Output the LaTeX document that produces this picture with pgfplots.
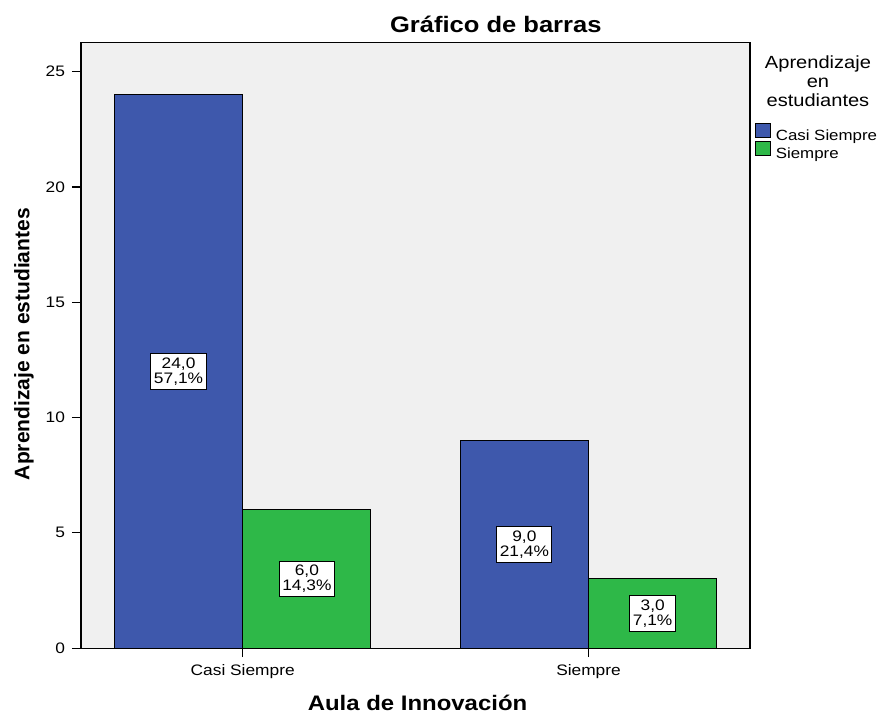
\documentclass[border=0pt]{standalone}
\usepackage{fontspec}
\setmainfont{Liberation Sans}[FakeStretch=1.14]
\newfontfamily\ylabfont{Liberation Sans}
\usepackage{pgfplots}
\usepackage{pgfplotstable}
\pgfplotsset{compat=1.18}

\definecolor{spssblue}{RGB}{62,88,172}
\definecolor{spssgreen}{RGB}{46,184,72}
\definecolor{plotbg}{RGB}{240,240,240}

% x = category position (0 = Casi Siempre, 1 = Siempre) with the bar offset
\pgfplotstableread{
x       val  pct
-0.1855 24   57.1
0.8145  9    21.4
}\casi
\pgfplotstableread{
x       val  pct
0.1855  6    14.3
1.1855  3    7.1
}\siempre

\pgfplotsset{
  barlabel/.style={
    draw=none, mark=none, forget plot,
    point meta=explicit,
    visualization depends on={\thisrow{pct} \as \pct},
    nodes near coords={\pgfmathprintnumber[fixed,fixed zerofill,precision=1,use comma]{\pgfplotspointmeta}\\\pgfmathprintnumber[fixed,fixed zerofill,precision=1,use comma]{\pct}\%},
    every node near coord/.style={anchor=center, draw=black, line width=0.5pt, fill=white,
      align=center, inner xsep=1.5pt, inner ysep=2pt, text=black,
      font=\fontsize{7.6}{7.6}\selectfont},
  },
}

\begin{document}
\begin{tikzpicture}
\begin{axis}[
    scale only axis,
    width=334.5pt, height=302.7pt,
    xmin=-0.4676, xmax=1.467,
    ymin=0, ymax=26.26,
    xtick={0,1},
    xticklabels={Casi Siempre,Siempre},
    ytick={0,5,...,25},
    tick pos=left,
    tick align=outside,
    major tick length=4.5pt,
    tick style={black, line width=0.6pt},
    axis line style={black, line width=0.6pt},
    axis background/.style={fill=plotbg},
    /pgf/number format/assume math mode=true,
    ticklabel style={font=\fontsize{7.6}{8}\selectfont},
    clip=false,
    every axis title shift=0pt,
    title={Gráfico de barras},
    title style={at={(axis description cs:0.62,1)}, anchor=base, yshift=5pt,
      font=\bfseries\fontsize{11.2}{13}\selectfont},
    xlabel={Aula de Innovación},
    xlabel style={at={(axis description cs:0.503,0)}, anchor=base, yshift=-31pt,
      font=\bfseries\fontsize{10.5}{12}\selectfont},
    ylabel={Aprendizaje en estudiantes},
    ylabel style={at={([xshift=-25.75pt]axis description cs:0,0.502)}, anchor=base,
      font=\ylabfont\bfseries\fontsize{10.5}{12}\selectfont},
    legend style={at={(rel axis cs:1.0075,0.868)}, anchor=north west,
      draw=none, fill=none, inner sep=0pt,
      font=\fontsize{7.4}{8}\selectfont, row sep=-2pt,
      nodes={inner sep=0.5pt, text height=6pt, text depth=1.5pt},
      /tikz/every odd column/.append style={column sep=1.8pt}},
    legend cell align=left,
    legend image code/.code={\draw[#1, draw=black, line width=0.4pt] (0pt,-0.5pt) rectangle (7.5pt,6.5pt);},
]
\addplot[ybar, bar width=0.371, bar shift=0pt, fill=spssblue, draw=black, line width=0.5pt]
  table[x=x, y=val] {\casi};
\addlegendentry{Casi Siempre}
\addplot[ybar, bar width=0.371, bar shift=0pt, fill=spssgreen, draw=black, line width=0.5pt]
  table[x=x, y=val] {\siempre};
\addlegendentry{Siempre}

\addplot[barlabel] table[x=x, y expr=\thisrow{val}/2, meta=val] {\casi};
\addplot[barlabel] table[x=x, y expr=\thisrow{val}/2, meta=val] {\siempre};

\node[align=center, anchor=north, inner sep=0pt, font=\fontsize{8.8}{9.5}\selectfont]
  at (rel axis cs:1.1016,0.9797) {Aprendizaje\\en\\estudiantes};

\coordinate (bl) at (rel axis cs:0,0);
\coordinate (tr) at (rel axis cs:1,1);
\end{axis}
\pgfresetboundingbox
\path ([shift={(-40.5pt,-32.5pt)}]bl) rectangle ([shift={(66pt,21.35pt)}]tr);
\end{tikzpicture}
\end{document}
